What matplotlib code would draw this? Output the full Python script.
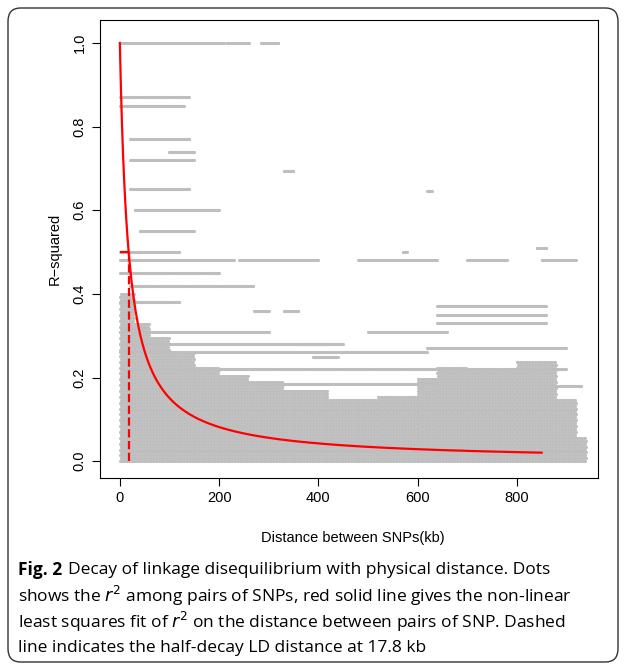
import numpy as np
import matplotlib
matplotlib.use("Agg")
import matplotlib.pyplot as plt
from matplotlib.patches import FancyBboxPatch

plt.rcParams['font.family'] = ['Liberation Sans', 'DejaVu Sans']

# Horizontal bands of dots: (x_start_kb, x_end_kb, r2)
bands = [
    (0, 210, 1.0), (215, 260, 1.0), (285, 320, 1.0),
    (0, 140, 0.87), (0, 130, 0.85), (20, 140, 0.77), (100, 150, 0.74),
    (20, 150, 0.72), (330, 350, 0.695), (20, 140, 0.65), (620, 630, 0.645),
    (30, 200, 0.60), (40, 150, 0.55), (0, 120, 0.50), (570, 580, 0.50),
    (840, 860, 0.51), (0, 230, 0.48), (240, 400, 0.48), (480, 640, 0.48),
    (700, 780, 0.48), (850, 920, 0.48), (0, 200, 0.45), (20, 270, 0.42),
    (0, 120, 0.38), (270, 300, 0.36), (330, 360, 0.36), (640, 860, 0.37),
    (640, 860, 0.35), (640, 860, 0.33), (500, 660, 0.31), (0, 300, 0.31),
    (0, 420, 0.28), (360, 450, 0.28), (390, 440, 0.25), (0, 620, 0.26),
    (620, 900, 0.27), (100, 900, 0.22), (250, 640, 0.185), (870, 930, 0.18),
]
# Dense cloud envelope: (x_start_kb, x_end_kb, top r2)
cloud = [(0, 30, 0.40), (30, 60, 0.33), (60, 100, 0.30), (100, 150, 0.26),
         (150, 200, 0.23), (200, 260, 0.21), (260, 330, 0.19), (330, 420, 0.17),
         (420, 520, 0.15), (520, 600, 0.16), (600, 640, 0.20), (640, 700, 0.23),
         (700, 800, 0.22), (800, 880, 0.24), (880, 920, 0.15), (920, 940, 0.06)]
half_decay = 17.8
fit_end = 850

bx, by = [], []
for x0, x1, r in bands:
    xs = np.arange(x0, x1 + 0.1, 1.5)
    bx += list(xs); by += [r] * len(xs)
for x0, x1, top in cloud:
    for k, r in enumerate(np.arange(0.0, top, 0.007)):
        xs = np.arange(x0 + (k % 2) * 1.5, x1, 3.0)
        bx += list(xs); by += [r] * len(xs)

fig = plt.figure(figsize=(6.25, 6.70), dpi=100)
fig.patches.append(FancyBboxPatch((8/625, 8/670), 610/625, 654/670,
                                  boxstyle="round,pad=0,rounding_size=0.02",
                                  transform=fig.transFigure, fill=False,
                                  ec="#333333", lw=1.0))
ax = fig.add_axes([0.16, 0.2866, 0.797, 0.6836])
ax.scatter(bx, by, s=5, c="#bebebe", lw=0)
xf = np.linspace(0, fit_end, 400)
ax.plot(xf, 1 / (1 + xf / half_decay), color="red", lw=1.6)
ax.plot([half_decay, half_decay], [0, 0.5], color="red", ls="--", lw=1.6)
ax.plot([0, half_decay], [0.5, 0.5], color="red", ls="--", lw=1.6)
ax.set_xlim(-40, 964)
ax.set_ylim(-0.04, 1.055)
ax.set_xticks([0, 200, 400, 600, 800])
ax.set_yticks([0, 0.2, 0.4, 0.6, 0.8, 1.0])
ax.set_yticklabels(["0.0", "0.2", "0.4", "0.6", "0.8", "1.0"], rotation=90, va="center")
ax.tick_params(labelsize=10.5, direction="out", length=6)
ax.set_ylabel("R\u2212squared", fontsize=10.5, labelpad=8)
fig.text(0.565, 1 - 538/670, "Distance between SNPs(kb)", ha="center", va="center", fontsize=10.5)

fam = "Open Sans"
fig.text(18/625, 1 - 570/670, "Fig. 2", fontsize=12.5, fontweight="bold", family=fam, va="center")
fig.text(68/625, 1 - 570/670, "Decay of linkage disequilibrium with physical distance. Dots",
         fontsize=12.5, family=fam, va="center")
lines = ["shows the $r^2$ among pairs of SNPs, red solid line gives the non-linear",
         "least squares fit of $r^2$ on the distance between pairs of SNP. Dashed",
         "line indicates the half-decay LD distance at 17.8 kb"]
for i, t in enumerate(lines):
    fig.text(18/625, 1 - (596 + 26*i)/670, t, fontsize=12.5, family=fam, va="center")
fig.savefig("out.png", dpi=100)
